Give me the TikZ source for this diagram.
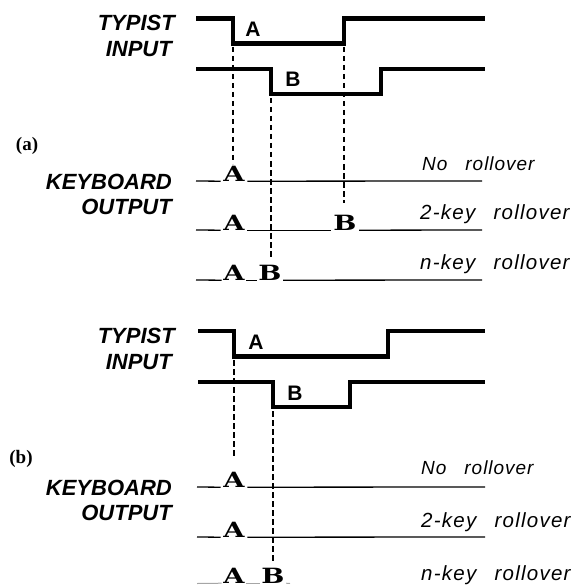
\documentclass[tikz,border=0pt]{standalone}
\usepackage{fontspec}
\setmainfont{Liberation Sans}
\newfontfamily\keyfont{DejaVu Serif}
\newfontfamily\serfont{Liberation Serif}
\newfontfamily\rollfontA[LetterSpace=5]{Liberation Sans}
\newfontfamily\rollfontB[LetterSpace=6]{Liberation Sans}
\begin{document}
\begin{tikzpicture}[x=1pt,y=-1pt,
  sig/.style={line width=4.6pt, line join=miter},
  kb/.style={line width=1.3pt},
  kbfaint/.style={line width=1pt, black!35},
  guide/.style={line width=1.2pt, dash pattern=on 5.5pt off 3.5pt},
  lab/.style={font=\fontsize{22}{22}\selectfont\bfseries\itshape, anchor=east, inner sep=0pt},
  rollA/.style={font=\rollfontA\fontsize{19}{19}\selectfont\itshape, anchor=base west, inner sep=0pt},
  rollB/.style={font=\rollfontB\fontsize{20.5}{20.5}\selectfont\itshape, anchor=base west, inner sep=0pt},
  keych/.style={font=\keyfont\fontsize{21}{21}\selectfont\bfseries, anchor=base, inner xsep=2.5pt, inner ysep=0pt},
  sigtxt/.style={font=\fontsize{21}{21}\selectfont\bfseries, inner sep=0pt},
  part/.style={font=\serfont\fontsize{19}{19}\selectfont\bfseries, inner sep=0pt}]
\useasboundingbox (0,0) rectangle (575,588);

% ================= (a) =================
\node[lab] (typA) at (175,23) {TYPIST};
\node[lab] (inpA) at (172,49) {INPUT};
\node[lab] (kbdA) at (172,182) {KEYBOARD};
\node[lab] (outA) at (172,207) {OUTPUT};
\node[part] (pa) at (27,146) {(a)};

% signals
\coordinate (aA0) at (196,18.5);
\coordinate (aAd) at (233,18.5);
\coordinate (aAl) at (233,43.5);
\coordinate (aAr) at (344,43.5);
\coordinate (aAh) at (344,18.5);
\coordinate (aA9) at (485,18.5);
\draw[sig] (aA0) -- (aAd) -- (aAl) -- (aAr) -- (aAh) -- (aA9);
\node[sigtxt] (aAlab) at (253,29.5) {A};

\coordinate (aB0) at (196,69);
\coordinate (aBd) at (271,69);
\coordinate (aBl) at (271,94);
\coordinate (aBr) at (381,94);
\coordinate (aBh) at (381,69);
\coordinate (aB9) at (485,69);
\draw[sig] (aB0) -- (aBd) -- (aBl) -- (aBr) -- (aBh) -- (aB9);
\node[sigtxt] (aBlab) at (293,79) {B};

% keyboard rows
\coordinate (a1s) at (196,181); \coordinate (a1e) at (482,181);
\node[keych] (a1A) at (234,181) {\scalebox{1.3}[1]{A}};
\draw[kb] (a1s) -- (a1A.south west);
\draw[kb] (a1A.south east) -- (a1e);
\node[rollA] (a1t) at (422,171) {No\hspace{0.95em}rollover};

\coordinate (a2s) at (196,230); \coordinate (a2e) at (482,230);
\node[keych] (a2A) at (234,230) {\scalebox{1.3}[1]{A}};
\node[keych] (a2B) at (345,230) {\scalebox{1.3}[1]{B}};
\draw[kb] (a2s) -- (a2A.south west);
\draw[kb] (a2A.south east) -- (a2B.south west);
\draw[kb] (a2B.south east) -- (a2e);
\node[rollB] (a2t) at (420,219) {2-key\hspace{0.9em}rollover};

\coordinate (a3s) at (196,280); \coordinate (a3e) at (482,280);
\node[keych, inner xsep=1.5pt] (a3A) at (234,280) {\scalebox{1.3}[1]{A}};
\node[keych, inner xsep=1.5pt] (a3B) at (270,280) {\scalebox{1.3}[1]{B}};
\draw[kb] (a3s) -- (a3A.south west);
\draw[kb] (a3A.south east) -- (a3B.south west);
\draw[kb] (a3B.south east) -- (a3e);
\node[rollB] (a3t) at (420,269) {n-key\hspace{0.9em}rollover};

% dashed guides
\coordinate (ag1a) at (233,47); \coordinate (ag1b) at (233,164);
\coordinate (ag2a) at (271,98); \coordinate (ag2b) at (271,259);
\coordinate (ag3a) at (344,47); \coordinate (ag3b) at (344,203);
\draw[guide] (ag1a) -- (ag1b);
\draw[guide] (ag2a) -- (ag2b);
\draw[guide] (ag3a) -- (ag3b);

% ================= (b) =================
\node[lab] (typB) at (175,336) {TYPIST};
\node[lab] (inpB) at (172,362) {INPUT};
\node[lab] (kbdB) at (172,488) {KEYBOARD};
\node[lab] (outB) at (172,513) {OUTPUT};
\node[part] (pb) at (21,459) {(b)};

\coordinate (bA0) at (198,331);
\coordinate (bAd) at (234,331);
\coordinate (bAl) at (234,356.5);
\coordinate (bAr) at (388,356.5);
\coordinate (bAh) at (388,331);
\coordinate (bA9) at (485,331);
\draw[sig] (bA0) -- (bAd) -- (bAl) -- (bAr) -- (bAh) -- (bA9);
\node[sigtxt] (bAlab) at (256,342) {A};

\coordinate (bB0) at (198,382);
\coordinate (bBd) at (273,382);
\coordinate (bBl) at (273,407);
\coordinate (bBr) at (350,407);
\coordinate (bBh) at (350,382);
\coordinate (bB9) at (485,382);
\draw[sig] (bB0) -- (bBd) -- (bBl) -- (bBr) -- (bBh) -- (bB9);
\node[sigtxt] (bBlab) at (295,393) {B};

\coordinate (b1s) at (197,487); \coordinate (b1e) at (485,487);
\node[keych] (b1A) at (234,487) {\scalebox{1.3}[1]{A}};
\draw[kb] (b1s) -- (b1A.south west);
\draw[kb] (b1A.south east) -- (b1e);
\node[rollA] (b1t) at (421,474) {No\hspace{0.95em}rollover};

\coordinate (b2s) at (197,537); \coordinate (b2e) at (485,537);
\node[keych] (b2A) at (234,537) {\scalebox{1.3}[1]{A}};
\draw[kb] (b2s) -- (b2A.south west);
\draw[kb] (b2A.south east) -- (b2e);
\node[rollB] (b2t) at (421,527) {2-key\hspace{0.9em}rollover};

\coordinate (b3s) at (197,583.5); \coordinate (b3e) at (290,583.5);
\node[keych, inner xsep=1.5pt] (b3A) at (234,583) {\scalebox{1.3}[1]{A}};
\node[keych, inner xsep=1.5pt] (b3B) at (273,583) {\scalebox{1.3}[1]{B}};
\draw[kbfaint] (b3s) -- (b3A.south west);
\draw[kbfaint] (b3A.south east) -- (b3B.south west);
\draw[kbfaint] (b3B.south east) -- (b3e);
\node[rollB] (b3t) at (421,580) {n-key\hspace{0.9em}rollover};

\coordinate (bg1a) at (234,360); \coordinate (bg1b) at (234,457);
\coordinate (bg2a) at (273,411); \coordinate (bg2b) at (273,563);
\draw[guide] (bg1a) -- (bg1b);
\draw[guide] (bg2a) -- (bg2b);
\end{tikzpicture}
\end{document}
